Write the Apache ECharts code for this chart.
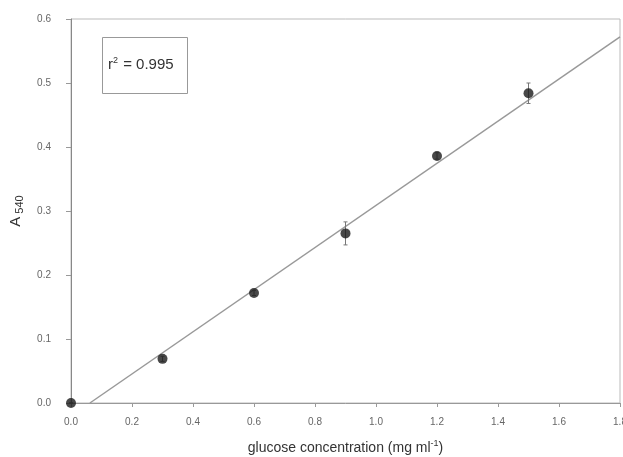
<!DOCTYPE html>
<html>
<head>
<meta charset="utf-8">
<script src="https://cdn.jsdelivr.net/npm/echarts@6/dist/echarts.min.js"></script>
<style>
  html, body { margin: 0; padding: 0; background: #fff; }
  #main { width: 623px; height: 457px; }
</style>
</head>
<body>
<div id="main"></div>
<script type="text/javascript">
// glucose standard curve
var conc = [0.0, 0.3, 0.6, 0.9, 1.2, 1.5];
var absorb = [0.0, 0.069, 0.172, 0.265, 0.386, 0.484];
var errs = [0.0, 0.004, 0.004, 0.018, 0.005, 0.016];
// fitted regression line, two ends
var fitX = [0.062, 1.8];
var fitY = [0.0, 0.572];
var xTicks = [0, 0.2, 0.4, 0.6, 0.8, 1.0, 1.2, 1.4, 1.6, 1.8];
var yTicks = [0, 0.1, 0.2, 0.3, 0.4, 0.5, 0.6];
var r2Text = '0.995';

var points = [], errData = [], fitData = [];
for (var i = 0; i < conc.length; i++) {
  points.push([conc[i], absorb[i]]);
  errData.push([conc[i], absorb[i] - errs[i], absorb[i] + errs[i]]);
}
for (var j = 0; j < fitX.length; j++) fitData.push([fitX[j], fitY[j]]);

var myChart = echarts.init(document.getElementById('main'));
var option = {
  animation: false,
  grid: {
    left: 71, right: 3, top: 19, bottom: 54,
    outerBoundsMode: 'none',
    containLabel: false,
    show: true, borderColor: '#bbb', borderWidth: 1
  },
  xAxis: {
    type: 'value', min: 0, max: 1.8, interval: 0.2,
    name: '{a|glucose concentration (mg ml}{s|-1}{a|)}',
    nameLocation: 'middle', nameGap: 36,
    nameTextStyle: {
      rich: {
        a: { fontFamily: 'Liberation Sans', fontSize: 14, color: '#333', lineHeight: 18 },
        s: { fontFamily: 'Liberation Sans', fontSize: 9, color: '#333', lineHeight: 18, padding: [0, 0, 8, 0] }
      }
    },
    axisLine: { lineStyle: { color: '#999' } },
    axisTick: { show: true, length: 4, inside: false, lineStyle: { color: '#999' } },
    axisLabel: {
      fontFamily: 'Liberation Sans', fontSize: 10, color: '#666', margin: 14,
      formatter: function (v) { return v.toFixed(1); }
    },
    splitLine: { show: false }
  },
  yAxis: {
    type: 'value', min: 0, max: 0.6, interval: 0.1,
    name: '{a|A}{s| 540}',
    nameLocation: 'middle', nameGap: 46, nameRotate: 90,
    nameTextStyle: {
      rich: {
        a: { fontFamily: 'Liberation Sans', fontSize: 15, color: '#333', lineHeight: 18 },
        s: { fontFamily: 'Liberation Sans', fontSize: 11, color: '#333', lineHeight: 18, padding: [8, 0, 0, 0] }
      }
    },
    axisLine: { lineStyle: { color: '#888' } },
    axisTick: { show: true, length: 5, lineStyle: { color: '#999' } },
    axisLabel: {
      fontFamily: 'Liberation Sans', fontSize: 10, color: '#666', margin: 20,
      formatter: function (v) { return v.toFixed(1); }
    },
    splitLine: { show: false }
  },
  series: [
    {
      name: 'fit',
      type: 'line',
      data: fitData,
      symbol: 'none',
      lineStyle: { color: '#999', width: 1.5 },
      z: 2
    },
    {
      name: 'error',
      type: 'custom',
      data: errData,
      renderItem: function (params, api) {
        var x = api.value(0);
        var lo = api.coord([x, api.value(1)]);
        var hi = api.coord([x, api.value(2)]);
        var cap = 2;
        return {
          type: 'group',
          children: [
            { type: 'line', shape: { x1: lo[0], y1: lo[1], x2: hi[0], y2: hi[1] }, style: { stroke: '#777', lineWidth: 1 } },
            { type: 'line', shape: { x1: lo[0] - cap, y1: lo[1], x2: lo[0] + cap, y2: lo[1] }, style: { stroke: '#777', lineWidth: 1 } },
            { type: 'line', shape: { x1: hi[0] - cap, y1: hi[1], x2: hi[0] + cap, y2: hi[1] }, style: { stroke: '#777', lineWidth: 1 } }
          ]
        };
      },
      z: 3
    },
    {
      name: 'data',
      type: 'scatter',
      data: points,
      symbol: 'circle',
      symbolSize: 10,
      itemStyle: { color: '#1a1a1a' },
      z: 4
    }
  ],
  graphic: [
    {
      type: 'rect',
      left: 102, top: 37,
      shape: { width: 85, height: 56 },
      style: { fill: '#fff', stroke: '#999', lineWidth: 1 },
      z: 10
    },
    {
      type: 'text',
      left: 108, top: 56,
      style: {
        text: '{a|r}{s|2}{a| = ' + r2Text + '}',
        rich: {
          a: { fontFamily: 'Liberation Sans', fontSize: 15, fill: '#333', lineHeight: 18 },
          s: { fontFamily: 'Liberation Sans', fontSize: 9, fill: '#333', lineHeight: 18, padding: [0, 1, 9, 0] }
        }
      },
      z: 11
    }
  ]
};
myChart.setOption(option);
</script>
</body>
</html>
